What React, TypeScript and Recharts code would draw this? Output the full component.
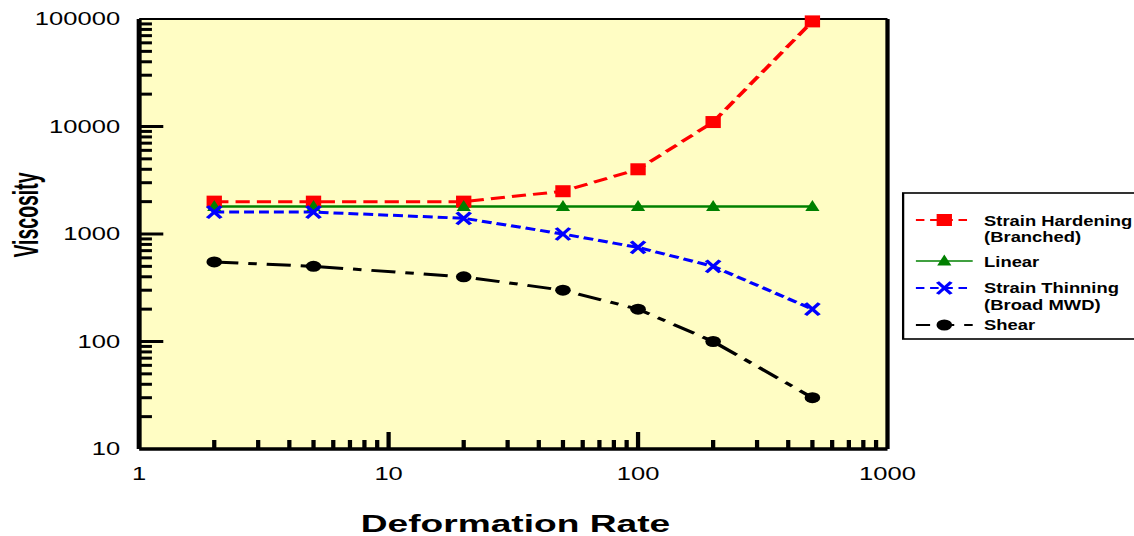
import React from "react";
import { LineChart, Line, XAxis, YAxis, CartesianGrid, ReferenceLine, Legend, Label } from "recharts";

// values (log-log)
const rates = [2, 5, 20, 50, 100, 200, 500];
const hardening = [2000, 2000, 2000, 2500, 4000, 11000, 95000];
const linear = [1800, 1800, 1800, 1800, 1800, 1800, 1800];
const thinning = [1600, 1600, 1400, 1000, 750, 500, 200];
const shear = [550, 500, 400, 300, 200, 100, 30];

const xDecades = [1, 10, 100, 1000];
const yDecades = [10, 100, 1000, 10000, 100000];
const minorSteps = [2, 3, 4, 5, 6, 7, 8, 9];

const series = [
  { key: "hardening", lines: ["Strain Hardening", "(Branched)"], color: "#FF0000", dash: "10 5", width: 3, marker: "square" },
  { key: "linear", lines: ["Linear"], color: "#008000", dash: undefined, width: 2.4, marker: "triangle" },
  { key: "thinning", lines: ["Strain Thinning", "(Broad MWD)"], color: "#0000FF", dash: "7 3.5", width: 3, marker: "cross" },
  { key: "shear", lines: ["Shear"], color: "#000000", dash: "17 7 6 7", width: 3, marker: "circle" },
];

const data = rates.map((rate, i) => ({
  rate,
  hardening: hardening[i],
  linear: linear[i],
  thinning: thinning[i],
  shear: shear[i],
}));

const withMinor = (decades: number[]) =>
  decades.flatMap((d, i) => (i < decades.length - 1 ? [d, ...minorSteps.map((m) => d * m)] : [d]));

const xTicks = withMinor(xDecades);
const yTicks = withMinor(yDecades);

const FONT = "'Liberation Sans', Arial, Helvetica, sans-serif";
const BG = "#FFFDC4";
const STRETCH = 1.42; // the original picture is stretched horizontally

const Marker = ({ kind, cx, cy, color }: any) => {
  if (cx == null || cy == null) return null;
  switch (kind) {
    case "square":
      return <rect x={cx - 5.4} y={cy - 6} width={10.8} height={12} fill={color} />;
    case "triangle":
      return <polygon points={`${cx},${cy - 6.5} ${cx - 5},${cy + 4.5} ${cx + 5},${cy + 4.5}`} fill={color} />;
    case "cross":
      return (
        <g stroke={color} strokeWidth={2.8}>
          <line x1={cx - 4.8} y1={cy - 6} x2={cx + 4.8} y2={cy + 6} />
          <line x1={cx - 4.8} y1={cy + 6} x2={cx + 4.8} y2={cy - 6} />
        </g>
      );
    default:
      return <circle cx={cx} cy={cy} r={5.5} fill={color} />;
  }
};

const XTick = ({ x, y, payload }: any) => {
  const v = payload.value;
  const major = xDecades.includes(v);
  return (
    <g>
      {v !== 1 && v !== 1000 && (
        <line x1={x} y1={y} x2={x} y2={y - (major ? 17 : 9)} stroke="#000" strokeWidth={3} />
      )}
      {major && (
        <text x={x} y={y + 31} textAnchor="middle" fontSize={18} fontFamily={FONT} fill="#000">
          {v}
        </text>
      )}
    </g>
  );
};

const YTick = ({ x, y, payload }: any) => {
  const v = payload.value;
  const major = yDecades.includes(v);
  return (
    <g>
      {v !== 10 && v !== 100000 && (
        <line x1={x} y1={y} x2={x + (major ? 17 : 9)} y2={y} stroke="#000" strokeWidth={3} />
      )}
      {major && (
        <text x={x - 13.4} y={y} dy="0.35em" textAnchor="end" fontSize={18} fontFamily={FONT} fill="#000">
          {v}
        </text>
      )}
    </g>
  );
};

const rowSample = [28, 69, 96, 133];
const rowText = [
  [34, 50],
  [75],
  [101, 118],
  [138.5],
];

const LegendBox = () => (
  <svg width={170} height={150} style={{ display: "block", overflow: "visible" }}>
    <rect x={1} y={1} width={220} height={146} fill="#fff" stroke="#000" strokeWidth={1.6} />
    {series.map((s, i) => (
      <g key={s.key}>
        <line
          x1={10}
          x2={50}
          y1={rowSample[i]}
          y2={rowSample[i]}
          stroke={s.color}
          strokeWidth={s.width - 0.8}
          strokeDasharray={s.key === "shear" ? "10 7" : s.dash ? "6 4" : undefined}
        />
        <Marker kind={s.marker} cx={30} cy={rowSample[i]} color={s.color} />
        <g transform="translate(58,0) scale(0.9,1)">
          {s.lines.map((t, j) => (
            <text key={t} x={0} y={rowText[i][j]} fontSize={14.4} fontWeight="bold" fontFamily={FONT} fill="#000">
              {t}
            </text>
          ))}
        </g>
      </g>
    ))}
  </svg>
);

export default function App() {
  return (
    <div style={{ position: "absolute", left: 0, top: 0, width: 1134, height: 536, overflow: "hidden", background: "#fff" }}>
      <div style={{ width: 798, height: 536, transform: `scaleX(${STRETCH})`, transformOrigin: "0 0" }}>
        <LineChart width={798} height={536} data={data} margin={{ top: 19, right: 173, bottom: 0, left: 0 }}>
          <CartesianGrid horizontal={false} vertical={false} fill={BG} fillOpacity={1} />
          <XAxis
            type="number"
            dataKey="rate"
            scale="log"
            domain={[1, 1000]}
            ticks={xTicks}
            interval={0}
            tickSize={0}
            tickMargin={0}
            tickLine={false}
            tick={<XTick />}
            axisLine={{ stroke: "#000", strokeWidth: 3.5 }}
            height={87}
          >
            <Label
              content={({ viewBox }: any) => (
                <text
                  x={viewBox.x + viewBox.width / 2 + 1.5}
                  y={viewBox.y + 83}
                  textAnchor="middle"
                  fontSize={24.5}
                  fontWeight="bold"
                  fontFamily={FONT}
                  textLength={218}
                  lengthAdjust="spacingAndGlyphs"
                  fill="#000"
                >
                  Deformation Rate
                </text>
              )}
            />
          </XAxis>
          <YAxis
            type="number"
            scale="log"
            domain={[10, 100000]}
            ticks={yTicks}
            interval={0}
            tickSize={0}
            tickMargin={0}
            tickLine={false}
            tick={<YTick />}
            axisLine={{ stroke: "#000", strokeWidth: 3.5 }}
            width={98}
          >
            <Label
              content={() => (
                <text
                  x={26.5}
                  y={215}
                  transform="rotate(-90, 26.5, 215)"
                  textAnchor="middle"
                  fontSize={25}
                  fontWeight="bold"
                  fontFamily={FONT}
                  textLength={85}
                  lengthAdjust="spacingAndGlyphs"
                  fill="#000"
                >
                  Viscosity
                </text>
              )}
            />
          </YAxis>
          <ReferenceLine y={100000} stroke="#000" strokeWidth={2.2} />
          <ReferenceLine x={1000} stroke="#000" strokeWidth={3} />
          {series.map((s) => (
            <Line
              key={s.key}
              type="linear"
              dataKey={s.key}
              stroke={s.color}
              strokeWidth={s.width}
              strokeDasharray={s.dash}
              isAnimationActive={false}
              activeDot={false}
              dot={(p: any) => <Marker key={`${s.key}-${p.index}`} kind={s.marker} cx={p.cx} cy={p.cy} color={s.color} />}
            />
          ))}
          <Legend
            layout="vertical"
            align="center"
            verticalAlign="middle"
            wrapperStyle={{ left: 635, top: 192, width: 170, height: 150 }}
            content={() => <LegendBox />}
          />
        </LineChart>
      </div>
    </div>
  );
}
